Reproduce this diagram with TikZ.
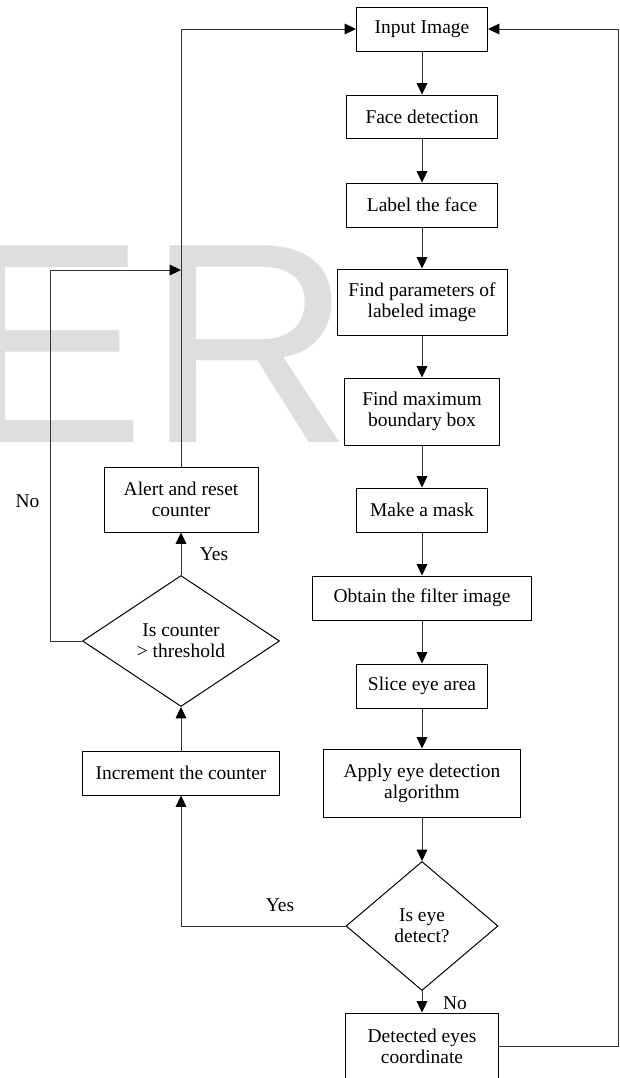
\documentclass[tikz,border=0pt]{standalone}
\usepackage{fontspec}
\setmainfont{Liberation Serif}
\newfontfamily\markfont{Liberation Sans}
\usetikzlibrary{shapes.geometric}
\usetikzlibrary{arrows, arrows.meta}

\newcommand\flowfont{\fontsize{14.6pt}{15.8pt}\selectfont}

\begin{document}
\begin{tikzpicture}[x=.75pt, y=-.75pt]

\useasboundingbox (0, 0) rectangle (620, 1078) ;

\def\maincol{422}
\def\sidecol{181}

% watermark

\node [anchor=base west, inner sep=0pt, text=black!13] (mark) at (-44.6, 442)
	{\markfont\fontsize{214.5pt}{214.5pt}\selectfont ER} ;

% styles

\tikzstyle{process box} = [draw=black, line width=.75pt, fill=white, inner sep=0pt, align=center, font=\flowfont]
\tikzstyle{decision box} = [process box, shape=diamond, aspect=1.5]
\tikzstyle{flow line} = [line width=.75pt, color=black!80, -{Triangle[length=8.5pt, width=8pt, black]}]
\tikzstyle{branch label} = [inner sep=0pt, font=\flowfont]
\tikzset{box size/.style 2 args={minimum width=#1*.75pt, minimum height=#2*.75pt}}

% main column

\node [process box, box size={131}{44}] (input) at (\maincol, 29) {Input Image} ;
\node [process box, box size={151}{43}] (facedet) at (\maincol, 116.5) {Face detection} ;
\node [process box, box size={151}{44}] (labelface) at (\maincol, 205) {Label the face} ;
\node [process box, box size={170}{66}] (params) at (\maincol, 302) {Find parameters of\\labeled image} ;
\node [process box, box size={155}{67}] (boundbox) at (\maincol, 411.5) {Find maximum\\boundary box} ;
\node [process box, box size={131}{44}] (mask) at (\maincol, 510) {Make a mask} ;
\node [process box, box size={219}{44}] (filter) at (\maincol, 598) {Obtain the filter image} ;
\node [process box, box size={131}{44}] (slice) at (\maincol, 686) {Slice eye area} ;
\node [process box, box size={197}{68}] (applydet) at (\maincol, 783) {Apply eye detection\\algorithm} ;
\node [decision box, box size={152}{129}] (eyecheck) at (\maincol, 926) {Is eye\\detect?} ;
\node [process box, box size={153}{66}] (detected) at (\maincol, 1046) {Detected eyes\\coordinate} ;

\foreach \from/\to in {input/facedet, facedet/labelface, labelface/params, params/boundbox,
		boundbox/mask, mask/filter, filter/slice, slice/applydet, applydet/eyecheck, eyecheck/detected}
	\draw [flow line] (\from) -- (\to) ;

% counter column

\node [process box, box size={154}{65}] (alert) at (\sidecol, 499.5) {Alert and reset\\counter} ;
\node [decision box, box size={197}{131}] (countercheck) at (\sidecol, 641) {Is counter\\> threshold} ;
\node [process box, box size={197}{44}] (increment) at (\sidecol, 773) {Increment the counter} ;

\draw [flow line] (eyecheck.west) -| (increment.south) ;
\draw [flow line] (increment) -- (countercheck) ;
\draw [flow line] (countercheck) -- (alert) ;

\coordinate (noturn) at (50, 641) ;
\coordinate (nojoin) at (\sidecol, 270) ;
\draw [flow line] (countercheck.west) -- (noturn) |- (nojoin) ;

\draw [flow line] (alert.north) |- (input.west) ;

% feedback to the input

\coordinate (backturn) at (618, 29) ;
\draw [flow line] (detected.east) -| (backturn) -- (input.east) ;

% branch labels

\node [branch label] (yeseye) at (280, 905) {Yes} ;
\node [branch label] (noeye) at (455, 1003) {No} ;
\node [branch label] (yescount) at (214, 554) {Yes} ;
\node [branch label] (nocount) at (27.5, 501) {No} ;

\end{tikzpicture}
\end{document}
